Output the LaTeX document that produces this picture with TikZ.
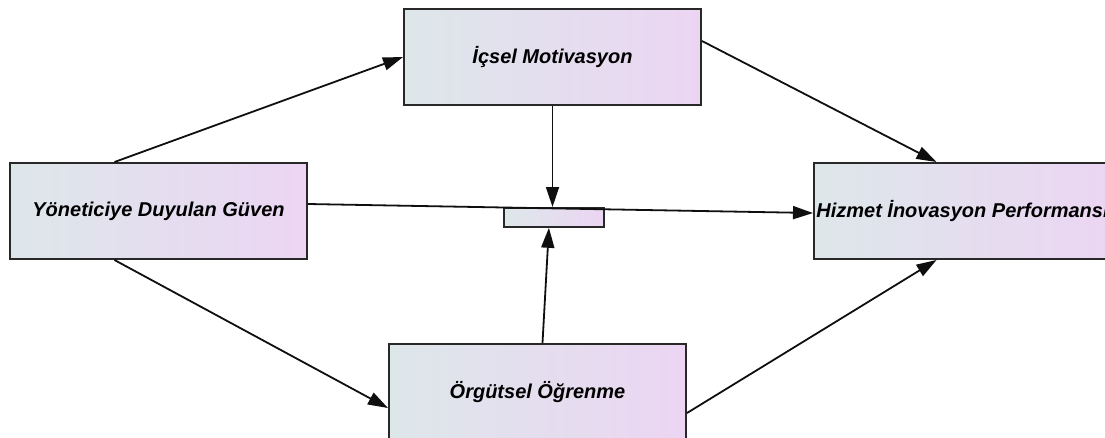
\documentclass[tikz,border=0pt]{standalone}
\usepackage{fontspec}
\setmainfont{Liberation Sans}
\usetikzlibrary{arrows.meta, positioning, calc}
\definecolor{boxBorder}{RGB}{40,40,40}
\definecolor{fillLeft}{RGB}{221,231,234}
\definecolor{fillRight}{RGB}{236,213,243}
\definecolor{lineColor}{RGB}{15,15,15}

\begin{document}
\begin{tikzpicture}[
    x=1pt, y=-1pt,
    factor/.style={
        draw=boxBorder, line width=2pt, left color=fillLeft, right color=fillRight,
        minimum width=297pt, minimum height=96pt, anchor=north west, inner sep=0pt,
        font=\fontsize{20}{24}\selectfont\bfseries\itshape
    },
    moderator/.style={
        draw=boxBorder, line width=1.8pt, left color=fillLeft, right color=fillRight,
        minimum width=100pt, minimum height=19pt, anchor=north west, inner sep=0pt
    },
    path-style/.style={-{Triangle[length=20pt, width=13pt]}, line width=1.8pt, color=lineColor}
]
    \useasboundingbox (0,0) rectangle (1105,437);

    % Factors.
    \node[factor] (ic)  at (403,8)   {İçsel Motivasyon};
    \node[factor] (yon) at (9,162)   {Yöneticiye Duyulan Güven};
    \node[factor] (hiz) at (813,162) {Hizmet İnovasyon Performansı};
    \node[factor] (org) at (388,343) {Örgütsel Öğrenme};
    \node[moderator] (mod) at (503,207) {};

    % Paths.
    \draw[path-style] ([xshift=-44pt]yon.north) -- (ic.west);
    \draw[path-style] ([xshift=-44pt]yon.south) -- ([yshift=-16pt]org.west);
    \draw[path-style] ([yshift=16pt]ic.east) -- ([xshift=-26pt]hiz.north);
    \draw[path-style] ([yshift=-21pt]org.east) -- ([xshift=-26pt]hiz.south);
    \draw[path-style] ([yshift=7pt]yon.east) -- ([yshift=-2pt]hiz.west);
    \draw[path-style] (ic.south) -- (ic.south |- mod.north);
    \draw[path-style] ([xshift=5pt]org.north) -- ([xshift=-5pt]mod.south);
\end{tikzpicture}
\end{document}
